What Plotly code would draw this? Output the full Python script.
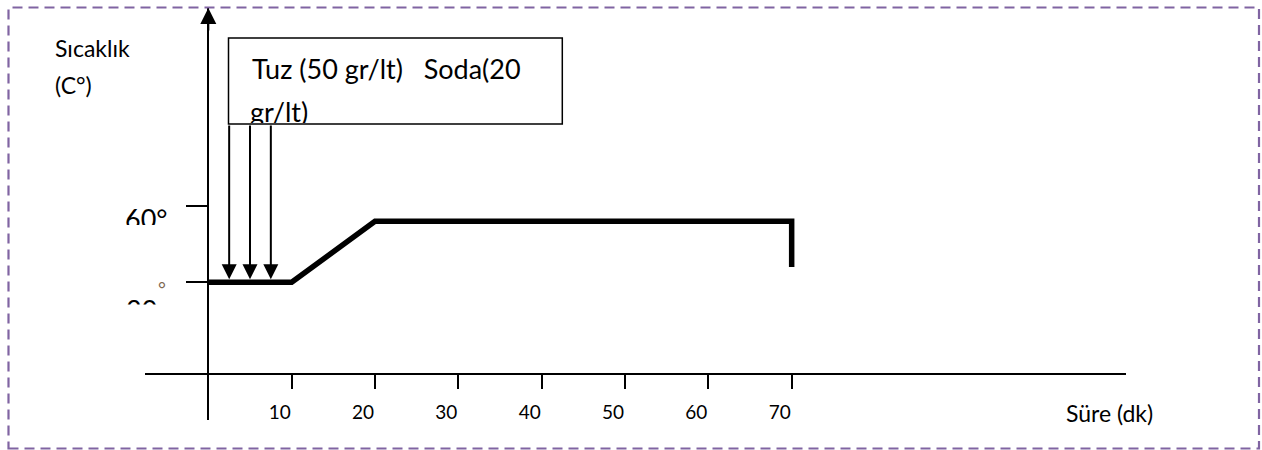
import plotly.graph_objects as go

# ---------------- data ----------------
time_min = [0, 10, 20, 70, 70]
temp_c = [30, 30, 54, 54, 36]
x_tick_vals = [10, 20, 30, 40, 50, 60, 70]
x_tick_text = ["10", "20", "30", "40", "50", "60", "70"]
y_tick_vals = [30, 60]
y_tick_text = ["30", "60°"]
addition_times = [2.5, 5, 7.5]
x_title = "Süre (dk)"
y_title_lines = ["Sıcaklık", "(C°)"]
box_lines = ["Tuz (50 gr/lt)   Soda(20", "gr/lt)"]

# ---------------- layout geometry ----------------
W, H = 1262, 450
ML, MR, MT, MB = 145, 136, 8, 30
PW = W - ML - MR
PH = H - MT - MB
X_RANGE = [-7.6, 110.12]
Y_RANGE = [-24.14, 137.85]
FONT = "Lato, 'Open Sans', sans-serif"


def fx(px):
    return (px - ML) / PW


def fy(py):
    return (H - MB - py) / PH


def ypx(v):
    return MT + (Y_RANGE[1] - v) / (Y_RANGE[1] - Y_RANGE[0]) * PH


fig = go.Figure()
fig.add_trace(go.Scatter(
    x=time_min, y=temp_c, mode="lines",
    line=dict(color="black", width=5.5),
    hoverinfo="skip", showlegend=False, cliponaxis=False,
))

annotations = []
# y-axis arrow head
annotations.append(dict(x=0, xref="x", y=1, yref="paper", ax=0, ay=24,
                        text="", showarrow=True, arrowhead=2, arrowsize=1.6,
                        arrowwidth=2, arrowcolor="black"))
# addition arrows from the box down to the line
box_top, box_bottom = 38, 124
for t in addition_times:
    annotations.append(dict(x=t, xref="x", y=temp_c[0], yref="y",
                            ax=0, ay=-(ypx(temp_c[0]) - box_bottom),
                            text="", showarrow=True, arrowhead=2, arrowsize=1.5,
                            arrowwidth=2, arrowcolor="black", standoff=3))

# box text (line 1, line 2 clipped by the box)
annotations.append(dict(x=fx(250), xref="paper", y=fy(68.7), yref="paper",
                        xanchor="left", yanchor="middle", text=box_lines[0],
                        showarrow=False, font=dict(family=FONT, size=27, color="black")))
annotations.append(dict(x=fx(250), xref="paper", y=fy(95), yref="paper",
                        xanchor="left", yanchor="top", valign="top", align="left",
                        height=box_bottom - 95 - 1, borderpad=0, borderwidth=0,
                        text=box_lines[1], showarrow=False,
                        font=dict(family=FONT, size=27, color="black")))

# y axis title
annotations.append(dict(x=fx(53), xref="paper", y=fy(48), yref="paper",
                        xanchor="left", yanchor="middle", text=y_title_lines[0],
                        showarrow=False, font=dict(family=FONT, size=23, color="black")))
annotations.append(dict(x=fx(53), xref="paper", y=fy(85), yref="paper",
                        xanchor="left", yanchor="middle", text=y_title_lines[1],
                        showarrow=False, font=dict(family=FONT, size=23, color="black")))

# x axis title
annotations.append(dict(x=fx(1064), xref="paper", y=fy(413), yref="paper",
                        xanchor="left", yanchor="middle", text=x_title,
                        showarrow=False, font=dict(family=FONT, size=23, color="black")))

# y tick labels (partly hidden, as in the original)
annotations.append(dict(x=fx(168), xref="paper", y=y_tick_vals[1], yref="y",
                        xanchor="right", yanchor="top", valign="top", yshift=4,
                        height=23, borderpad=0, borderwidth=0,
                        text=y_tick_text[1], showarrow=False,
                        font=dict(family=FONT, size=27, color="black")))
annotations.append(dict(x=fx(157), xref="paper", y=y_tick_vals[0], yref="y",
                        xanchor="right", yanchor="top", valign="top", yshift=-10.4,
                        height=11.5, borderpad=0, borderwidth=0,
                        text=y_tick_text[0], showarrow=False,
                        font=dict(family=FONT, size=27, color="black")))
annotations.append(dict(x=fx(161.5), xref="paper", y=y_tick_vals[0], yref="y",
                        xanchor="center", yanchor="middle", yshift=-6,
                        text="°", showarrow=False,
                        font=dict(family=FONT, size=19, color="#7d6650")))

shapes = [
    # annotation box
    dict(type="rect", xref="paper", yref="paper",
         x0=fx(228.5), x1=fx(562.3), y0=fy(box_bottom), y1=fy(box_top),
         line=dict(color="black", width=1.5), fillcolor="white", layer="below"),
    # dashed purple frame
    dict(type="rect", xref="paper", yref="paper",
         x0=fx(8.5), x1=fx(1259), y0=fy(448.5), y1=fy(7.5),
         line=dict(color="#8064A2", width=2.2, dash="10px,6px"), layer="above"),
]

fig.update_layout(
    width=W, height=H,
    margin=dict(l=ML, r=MR, t=MT, b=MB, pad=0),
    paper_bgcolor="white", plot_bgcolor="white",
    showlegend=False,
    font=dict(family=FONT, color="black"),
    annotations=annotations,
    shapes=shapes,
    xaxis=dict(
        range=X_RANGE, domain=[0, 1], anchor="free", position=fy(374),
        showline=True, linecolor="black", linewidth=2,
        showgrid=False, zeroline=False,
        tickmode="array", tickvals=x_tick_vals, ticktext=x_tick_text,
        ticks="outside", ticklen=14, tickwidth=2, tickcolor="black",
        tickfont=dict(family=FONT, size=19, color="black"),
        ticklabelshift=-12, ticklabelstandoff=7,
        fixedrange=True,
    ),
    yaxis=dict(
        range=Y_RANGE, domain=[0, 1], anchor="free", position=fx(208.3),
        showline=True, linecolor="black", linewidth=2,
        showgrid=False, zeroline=False,
        tickmode="array", tickvals=y_tick_vals,
        ticks="outside", ticklen=21, tickwidth=2, tickcolor="black",
        showticklabels=False, fixedrange=True,
    ),
)

fig.write_html(
    "out.html",
    config={"displayModeBar": False},
    post_script="document.body.style.margin='0';document.body.style.overflow='hidden';",
)
